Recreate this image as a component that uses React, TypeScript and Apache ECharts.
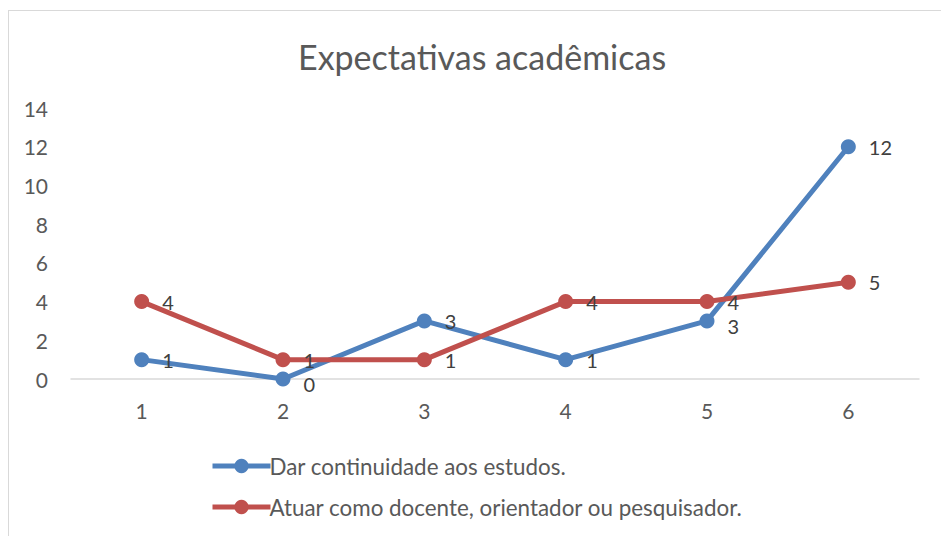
import React, { useEffect, useRef } from "react";
import * as echarts from "echarts";

const categories = ["1", "2", "3", "4", "5", "6"];
const seriesNames = [
  "Dar continuidade aos estudos.",
  "Atuar como docente, orientador ou pesquisador.",
];
const continuidade = [1, 0, 3, 1, 3, 12];
const docente = [4, 1, 1, 4, 4, 5];
const colors = ["#4f81bd", "#c0504d"];
// labels that sit slightly lower than their point in the reference
const continuidadeLowered = [1, 4];

const FONT = "Lato, 'Open Sans', sans-serif";

export default function App() {
  const ref = useRef<HTMLDivElement>(null);
  useEffect(() => {
    if (!ref.current) return;
    const chart = echarts.init(ref.current, undefined, { renderer: "svg" });
    const mkSeries = (name: string, data: number[], color: string, lowered: number[]) => ({
      name,
      type: "line",
      data: data.map((v, i) =>
        lowered.includes(i) ? { value: v, label: { offset: [0, 5] } } : v
      ),
      symbol: "circle",
      symbolSize: 15,
      itemStyle: { color },
      lineStyle: { color, width: 5 },
      label: {
        show: true,
        position: "right",
        distance: 13,
        color: "#404040",
        fontFamily: FONT,
        fontSize: 20,
      },
    });
    chart.setOption({
      animation: false,
      backgroundColor: "#ffffff",
      title: {
        text: "Expectativas acadêmicas",
        left: 293,
        top: 34,
        textStyle: {
          fontFamily: FONT,
          fontSize: 34,
          fontWeight: "normal",
          color: "#595959",
        },
      },
      legend: {
        orient: "vertical",
        left: 205,
        top: 450,
        itemGap: 19,
        itemWidth: 58,
        itemHeight: 18,
        lineStyle: { width: 5 },
        textStyle: { fontFamily: FONT, fontSize: 22.4, color: "#595959", padding: [0, 0, 0, -6] },
        data: seriesNames,
      },
      grid: { left: 71, right: 22, top: 108, bottom: 157 },
      xAxis: {
        type: "category",
        data: categories,
        boundaryGap: true,
        axisLine: { lineStyle: { color: "#d9d9d9", width: 1.5 } },
        axisTick: { show: false },
        axisLabel: { color: "#595959", fontFamily: FONT, fontSize: 21, margin: 21 },
      },
      yAxis: {
        type: "value",
        min: 0,
        max: 14,
        interval: 2,
        axisLine: { show: false },
        axisTick: { show: false },
        splitLine: { show: false },
        axisLabel: { color: "#595959", fontFamily: FONT, fontSize: 21, margin: 23 },
      },
      series: [
        mkSeries(seriesNames[0], continuidade, colors[0], continuidadeLowered),
        mkSeries(seriesNames[1], docente, colors[1], []),
      ],
    });
    return () => chart.dispose();
  }, []);
  return (
    <div
      style={{
        position: "fixed",
        left: 0,
        top: 0,
        width: 941,
        height: 536,
        background: "#fff",
        overflow: "hidden",
      }}
    >
      <div ref={ref} style={{ position: "absolute", left: 0, top: 0, width: 941, height: 536 }} />
      <div
        style={{
          position: "absolute",
          left: 8,
          top: 10,
          width: 940,
          height: 540,
          border: "1.5px solid #d9d9d9",
          boxSizing: "border-box",
          pointerEvents: "none",
        }}
      />
    </div>
  );
}
